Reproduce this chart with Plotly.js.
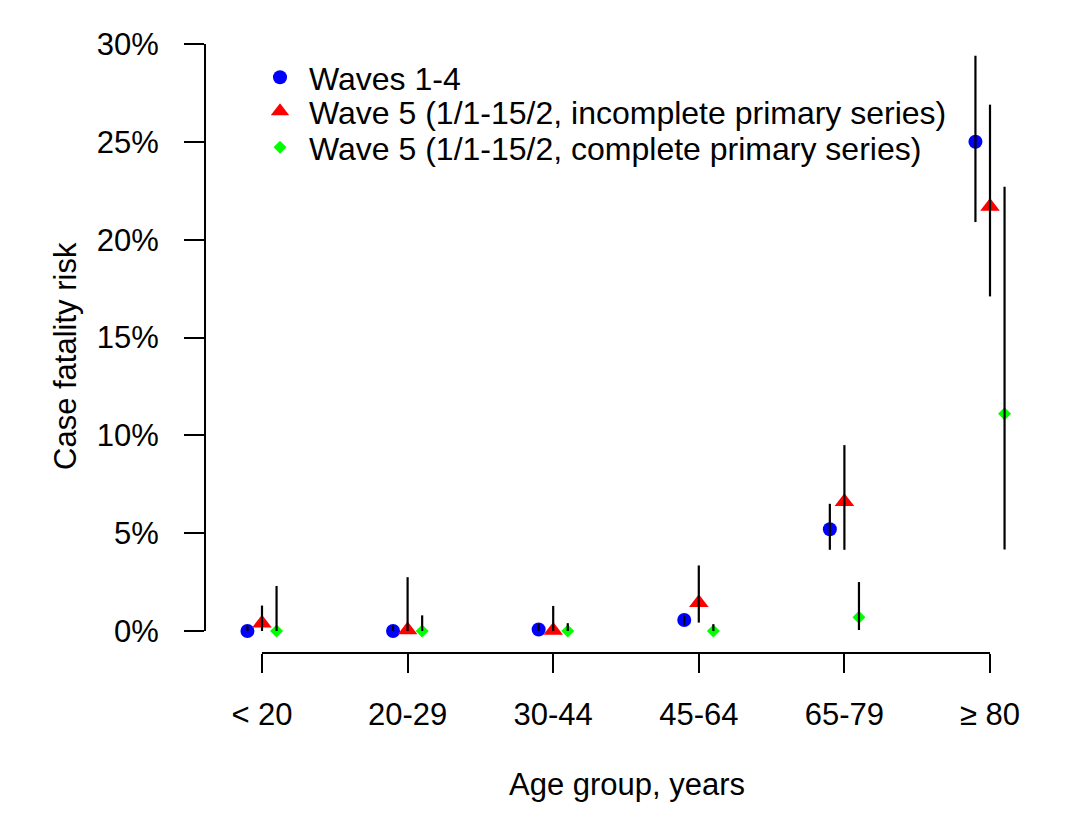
<!DOCTYPE html>
<html>
<head>
<meta charset="utf-8">
<script src="https://cdn.plot.ly/plotly-3.0.1.min.js"></script>
<style>html,body{margin:0;padding:0;background:#fff;}#chart{width:1080px;height:826px;}</style>
</head>
<body>
<div id="chart"></div>
<script>
// ---- data (percent) ----
var categories = ['< 20', '20-29', '30-44', '45-64', '65-79', '\u2265 80'];

var waves14      = [0.0, 0.0, 0.08, 0.56, 5.2, 25.0];
var waves14Lo    = [0.0, 0.0, 0.0, 0.3, 4.15, 20.9];
var waves14Hi    = [0.3, 0.3, 0.35, 0.8, 6.5, 29.4];

var w5Incomplete   = [0.4, 0.05, 0.03, 1.45, 6.6, 21.7];
var w5IncompleteLo = [0.0, 0.0, 0.0, 0.43, 4.15, 17.1];
var w5IncompleteHi = [1.3, 2.75, 1.28, 3.35, 9.5, 26.9];

var w5Complete   = [0.0, 0.0, 0.0, 0.0, 0.7, 11.1];
var w5CompleteLo = [0.0, 0.0, 0.0, 0.0, 0.05, 4.17];
var w5CompleteHi = [2.3, 0.8, 0.4, 0.35, 2.5, 22.7];

var yTickVals = [0, 5, 10, 15, 20, 25, 30];
var yTickText = ['0%', '5%', '10%', '15%', '20%', '25%', '30%'];

var seriesNames = ['Waves 1-4',
  'Wave 5 (1/1-15/2, incomplete primary series)',
  'Wave 5 (1/1-15/2, complete primary series)'];

// ---- build ----
var idx = categories.map(function (c, i) { return i; });
var offsets = [-0.1, 0, 0.1];

function xs(off) { return idx.map(function (i) { return i + off; }); }
function segs(off, lo, hi) {
  var x = [], y = [];
  idx.forEach(function (i) {
    x.push(i + off, i + off, null);
    y.push(lo[i], hi[i], null);
  });
  return {x: x, y: y};
}

var font = 'Liberation Sans, Arial, Helvetica, sans-serif';
var fs = 31;
var legendFs = 32;

var traces = [
  {x: xs(offsets[0]), y: waves14, name: seriesNames[0], type: 'scatter', mode: 'markers', legend: 'legend',
   marker: {symbol: 'circle', size: 14, color: '#0000ff'}, cliponaxis: false},
  {x: xs(offsets[1]), y: w5Incomplete, name: seriesNames[1], type: 'scatter', mode: 'markers', legend: 'legend2',
   marker: {symbol: 'triangle-up', size: 17, color: '#ff0000'}, cliponaxis: false},
  {x: xs(offsets[2]), y: w5Complete, name: seriesNames[2], type: 'scatter', mode: 'markers', legend: 'legend3',
   marker: {symbol: 'diamond', size: 10, color: '#00ff00'}, cliponaxis: false}
];
[[waves14Lo, waves14Hi], [w5IncompleteLo, w5IncompleteHi], [w5CompleteLo, w5CompleteHi]].forEach(function (p, k) {
  var s = segs(offsets[k], p[0], p[1]);
  traces.push({x: s.x, y: s.y, type: 'scatter', mode: 'lines', showlegend: false,
    line: {color: '#000', width: 2.2}, hoverinfo: 'skip', cliponaxis: false});
});

var L = 205, R = 40, T = 30, B = 173;
var W = 1080 - L - R, H = 826 - T - B;
var pxPerCat = 145.6, pxPerPct = 19.567;
var xmin = (205 - 262) / pxPerCat;
var xmax = xmin + W / pxPerCat;
var ymin = -(653 - 631) / pxPerPct;
var ymax = ymin + H / pxPerPct;

function legendAt(rowCenterPx) {
  return {x: (251 - L) / W, y: (653 - (rowCenterPx - 27)) / H, xanchor: 'left', yanchor: 'top',
    font: {family: font, size: legendFs, color: '#000'}, bgcolor: 'rgba(0,0,0,0)', borderwidth: 0,
    itemwidth: 48};
}

var layout = {
  width: 1080, height: 826,
  margin: {l: L, r: R, t: T, b: B},
  paper_bgcolor: '#fff', plot_bgcolor: '#fff',
  font: {family: font, size: fs, color: '#000'},
  showlegend: true,
  legend: legendAt(77),
  legend2: legendAt(111),
  legend3: legendAt(147),
  xaxis: {range: [xmin, xmax], tickvals: idx, ticktext: categories, showgrid: false, zeroline: false,
    showline: false, ticks: 'outside', ticklen: 19, tickwidth: 2, tickcolor: '#000',
    ticklabelstandoff: 15, tickfont: {family: font, size: fs, color: '#000'}, fixedrange: true},
  yaxis: {range: [ymin, ymax], tickvals: yTickVals, ticktext: yTickText, showgrid: false, zeroline: false,
    showline: false, ticks: 'outside', ticklen: 20, tickwidth: 2, tickcolor: '#000',
    ticklabelstandoff: 19, tickfont: {family: font, size: fs, color: '#000'}, fixedrange: true},
  shapes: [
    {type: 'line', xref: 'x', yref: 'paper', x0: 0, x1: categories.length - 1, y0: 0, y1: 0,
     line: {color: '#000', width: 2}},
    {type: 'line', xref: 'paper', yref: 'y', x0: 0, x1: 0, y0: yTickVals[0], y1: yTickVals[yTickVals.length - 1],
     line: {color: '#000', width: 2}}
  ],
  annotations: [
    {text: 'Age group, years', xref: 'paper', yref: 'paper', x: (627 - L) / W, y: (653 - 784) / H,
     xanchor: 'center', yanchor: 'middle', showarrow: false, font: {family: font, size: fs, color: '#000'}},
    {text: 'Case fatality risk', xref: 'paper', yref: 'paper', x: (65 - L) / W, y: (653 - 356) / H,
     xanchor: 'center', yanchor: 'middle', textangle: -90, showarrow: false,
     font: {family: font, size: fs, color: '#000'}}
  ]
};

Plotly.newPlot('chart', traces, layout, {displayModeBar: false, staticPlot: true});
</script>
</body>
</html>
